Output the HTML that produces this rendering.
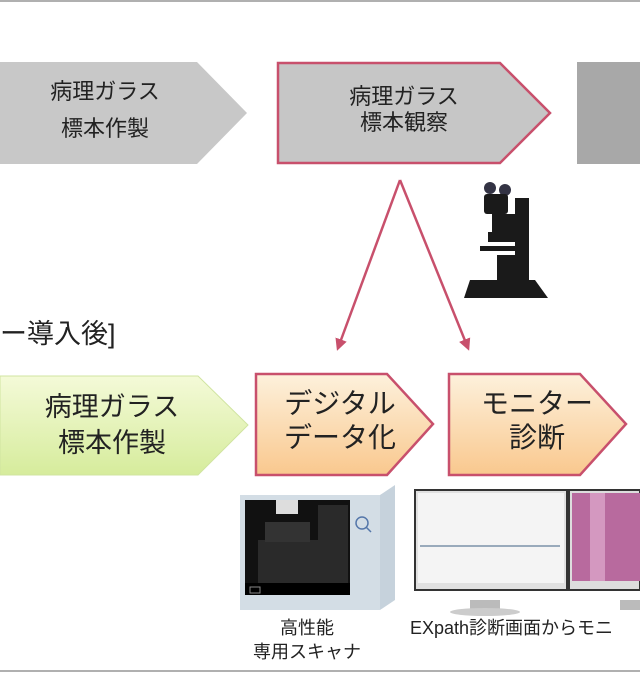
<!DOCTYPE html>
<html><head><meta charset="utf-8"><style>
body{margin:0;background:#fff;}
svg{display:block;font-family:"Liberation Sans","Noto Sans CJK JP",sans-serif;}
</style></head><body>
<svg width="640" height="680" viewBox="0 0 640 680" xmlns="http://www.w3.org/2000/svg">
<defs>
<linearGradient id="gr" x1="0" y1="0" x2="0" y2="1"><stop offset="0" stop-color="#f4fad8"/><stop offset="1" stop-color="#d6ec9c"/></linearGradient>
<linearGradient id="or" x1="0" y1="0" x2="0" y2="1"><stop offset="0" stop-color="#fdf1dc"/><stop offset="1" stop-color="#f9c88e"/></linearGradient>
<marker id="ah" markerWidth="12" markerHeight="12" refX="9" refY="6" orient="auto" markerUnits="userSpaceOnUse"><path d="M0,0 L12,6 L0,12 z" fill="#c8506c"/></marker>
</defs>
<line x1="0" y1="1" x2="640" y2="1" stroke="#b0b0b0" stroke-width="2"/>
<line x1="0" y1="671" x2="640" y2="671" stroke="#b0b0b0" stroke-width="2"/>
<!-- top row -->
<polygon points="0,62 197,62 247,113 197,164 0,164" fill="#c8c8c8"/>
<text x="105" y="99" font-size="22" text-anchor="middle" fill="#222">病理ガラス</text>
<text x="105" y="136" font-size="22" text-anchor="middle" fill="#222">標本作製</text>
<polygon points="278,63 500,63 550,113 500,163 278,163" fill="#c6c6c6" stroke="#c8506c" stroke-width="2.5"/>
<text x="404" y="104" font-size="22" text-anchor="middle" fill="#222">病理ガラス</text>
<text x="404" y="130" font-size="22" text-anchor="middle" fill="#222">標本観察</text>
<rect x="577" y="62" width="63" height="102" fill="#a8a8a8"/>
<!-- arrows -->
<line x1="400" y1="180" x2="338" y2="348" stroke="#c8506c" stroke-width="2.5" marker-end="url(#ah)"/>
<line x1="400" y1="180" x2="468" y2="348" stroke="#c8506c" stroke-width="2.5" marker-end="url(#ah)"/>
<!-- microscope -->
<g fill="#1a1a1a">
<circle cx="490" cy="188" r="6" fill="#334"/><circle cx="505" cy="190" r="6" fill="#334"/>
<rect x="484" y="194" width="24" height="20" rx="3"/>
<rect x="515" y="198" width="14" height="88"/>
<rect x="492" y="214" width="26" height="18"/>
<rect x="488" y="232" width="28" height="10"/>
<rect x="480" y="246" width="38" height="5"/>
<rect x="497" y="255" width="18" height="25"/>
<polygon points="470,280 535,280 548,298 464,298"/>
</g>
<text x="0" y="343" font-size="27" fill="#222">ー導入後]</text>
<!-- bottom row -->
<polygon points="0,376 198,376 248,425 198,475 0,475" fill="url(#gr)" stroke="#d0e4a0" stroke-width="1"/>
<text x="112" y="416" font-size="27" text-anchor="middle" fill="#222">病理ガラス</text>
<text x="112" y="452" font-size="27" text-anchor="middle" fill="#222">標本作製</text>
<polygon points="256,374 387,374 433,424 387,475 256,475" fill="url(#or)" stroke="#c8506c" stroke-width="2.5"/>
<text x="340" y="413" font-size="28" text-anchor="middle" fill="#222">デジタル</text>
<text x="340" y="447" font-size="28" text-anchor="middle" fill="#222">データ化</text>
<polygon points="449,374 580,374 626,424 580,475 449,475" fill="url(#or)" stroke="#c8506c" stroke-width="2.5"/>
<text x="537" y="413" font-size="28" text-anchor="middle" fill="#222">モニター</text>
<text x="537" y="447" font-size="28" text-anchor="middle" fill="#222">診断</text>
<!-- scanner -->
<polygon points="240,495 380,495 395,485 395,600 380,610 240,610" fill="#c6d2dc"/>
<rect x="240" y="495" width="140" height="115" fill="#d3dde5"/>
<rect x="245" y="500" width="105" height="95" fill="#111"/>
<rect x="258" y="540" width="60" height="55" fill="#2a2a2a"/>
<rect x="265" y="522" width="45" height="20" fill="#333"/>
<rect x="318" y="505" width="30" height="90" fill="#2a2a2a"/>
<rect x="276" y="500" width="22" height="14" fill="#ddd"/>
<rect x="245" y="583" width="105" height="12" fill="#000"/>
<rect x="250" y="587" width="10" height="6" fill="none" stroke="#888"/>
<circle cx="362" cy="523" r="6" fill="none" stroke="#5577aa" stroke-width="1.5"/>
<line x1="366" y1="527" x2="371" y2="532" stroke="#5577aa" stroke-width="1.5"/>
<!-- monitors -->
<rect x="415" y="490" width="152" height="100" fill="#e0e0e0" stroke="#333" stroke-width="2"/>
<rect x="418" y="493" width="146" height="90" fill="#f4f4f4"/>
<rect x="420" y="545" width="140" height="2" fill="#9ab"/>
<rect x="470" y="600" width="30" height="10" fill="#bbb"/>
<ellipse cx="485" cy="612" rx="35" ry="4" fill="#ccc"/>
<rect x="569" y="490" width="71" height="100" fill="#ddd" stroke="#333" stroke-width="2"/>
<rect x="572" y="493" width="68" height="88" fill="#b86a9e"/>
<rect x="590" y="493" width="15" height="88" fill="#d498c0"/>
<rect x="620" y="600" width="20" height="10" fill="#bbb"/>
<text x="307" y="634" font-size="18" text-anchor="middle" fill="#222">高性能</text>
<text x="307" y="658" font-size="18" text-anchor="middle" fill="#222">専用スキャナ</text>
<text x="410" y="634" font-size="18" fill="#222">EXpath診断画面からモニ</text>
</svg>
</body></html>
